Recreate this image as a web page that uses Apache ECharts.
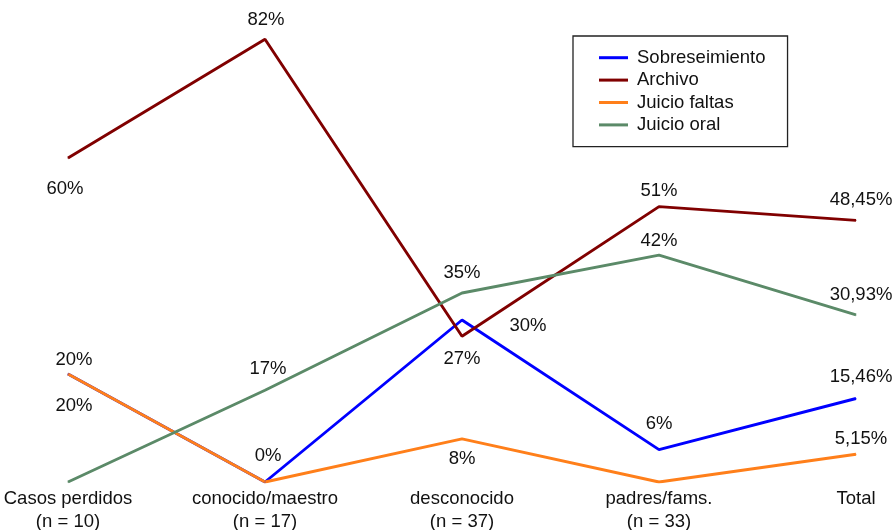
<!DOCTYPE html>
<html>
<head>
<meta charset="utf-8">
<script src="https://cdn.jsdelivr.net/npm/echarts@6/dist/echarts.min.js"></script>
<style>
  html, body { margin: 0; padding: 0; background: #fff; }
  #chart { width: 895px; height: 530px; }
</style>
</head>
<body>
<div id="chart"></div>
<script>
// Categories (group of origin, with sample size)
const categories = [
  'Casos perdidos\n(n = 10)',
  'conocido/maestro\n(n = 17)',
  'desconocido\n(n = 37)',
  'padres/fams.\n(n = 33)',
  'Total'
];

// Percentage of cases per outcome
const sobreseimiento = [20, 0, 30, 6, 15.46];
const archivo        = [60, 82, 27, 51, 48.45];
const juicioFaltas   = [20, 0, 8, 0, 5.15];
const juicioOral     = [0, 17, 35, 42, 30.93];

const seriesNames = ['Sobreseimiento', 'Archivo', 'Juicio faltas', 'Juicio oral'];
const seriesValues = [sobreseimiento, archivo, juicioFaltas, juicioOral];
const seriesColors = ['#0000ff', '#800000', '#ff7f1a', '#5b8a68'];

// Label placement around each point: [dx, dy] from the point, or null to hide
const labelOffsets = [
  [[6, 32], [3, -26], [66, 6], [0, -26], [5, -22]],
  [[-3, 31], [1, -19], [0, 23], [0, -16], [5, -20]],
  [[6, -14], null, [0, 20], null, [5, -15]],
  [null, [3, -21], [0, -20], [0, -14], [5, -20]]
];

const FONT = "'Liberation Sans', Arial, Helvetica, sans-serif";
const FS = 18.5;

function fmt(v) {
  return String(v).replace('.', ',') + '%';
}

const series = seriesValues.map((vals, s) => ({
  name: seriesNames[s],
  type: 'line',
  symbol: 'circle',
  symbolSize: 1,
  showSymbol: true,
  color: seriesColors[s],
  lineStyle: { width: 2.9, color: seriesColors[s] },
  itemStyle: { color: seriesColors[s] },
  emphasis: { disabled: true },
  animation: false,
  data: vals.map((v, i) => {
    const off = labelOffsets[s][i];
    return {
      value: v,
      label: off ? {
        show: true,
        position: 'inside',
        offset: off,
        formatter: fmt(v),
        color: '#111',
        fontFamily: FONT,
        fontSize: FS
      } : { show: false }
    };
  })
}));

const chart = echarts.init(document.getElementById('chart'), null, { renderer: 'canvas' });
chart.setOption({
  backgroundColor: '#fff',
  animation: false,
  grid: {
    left: 68, right: 39, top: 23, bottom: 48,
    containLabel: false,
    outerBoundsMode: 'none'
  },
  legend: {
    orient: 'vertical',
    left: 573,
    top: 36,
    padding: [10.5, 22, 10.5, 26],
    itemGap: 0,
    itemWidth: 29,
    itemHeight: 3,
    icon: 'rect',
    borderColor: '#222',
    borderWidth: 1.3,
    data: seriesNames,
    textStyle: {
      fontFamily: FONT,
      fontSize: FS,
      color: '#111',
      lineHeight: 22.4,
      padding: [0, 0, 0, 4]
    }
  },
  xAxis: {
    type: 'category',
    boundaryGap: false,
    data: categories,
    axisLine: { show: false },
    axisTick: { show: false },
    splitLine: { show: false },
    axisLabel: {
      interval: 0,
      margin: 5,
      fontFamily: FONT,
      fontSize: FS,
      color: '#111',
      lineHeight: 23
    }
  },
  yAxis: {
    type: 'value',
    min: 0,
    max: 85,
    show: false
  },
  series: series
});
</script>
</body>
</html>
